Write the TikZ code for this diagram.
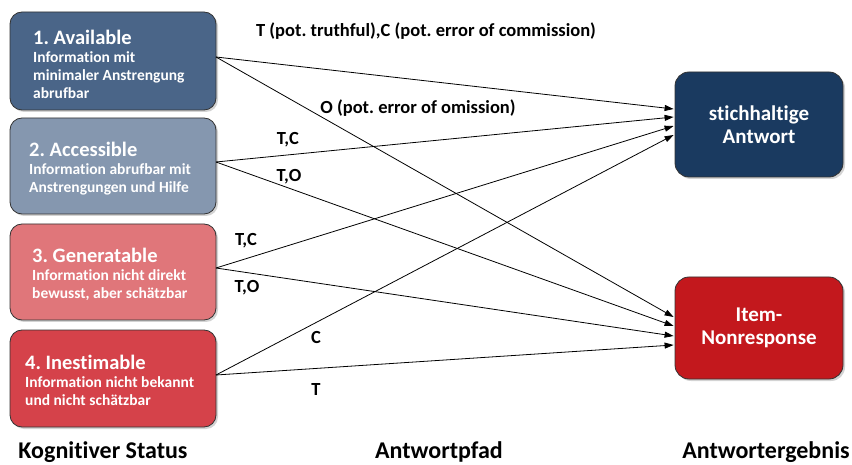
\documentclass[tikz,border=0pt]{standalone}
\usepackage{fontspec}
\setmainfont{Carlito}[Ligatures=NoCommon]
\usetikzlibrary{arrows.meta,shadows,calc}
\frenchspacing

\definecolor{cavail}{HTML}{4A6588}
\definecolor{caccess}{HTML}{8597AF}
\definecolor{cgener}{HTML}{E0767A}
\definecolor{cinest}{HTML}{D5424A}
\definecolor{cvalid}{HTML}{1A3A60}
\definecolor{cnonresp}{HTML}{C3181D}

\tikzset{
  statebox/.style={draw=black!80, line width=0.8pt, rounded corners=12pt,
    minimum width=206pt, drop shadow={shadow xshift=2pt, shadow yshift=-2pt, opacity=0.35}},
  resultbox/.style={draw=black!80, line width=0.8pt, rounded corners=14pt,
    minimum width=168pt, drop shadow={shadow xshift=2pt, shadow yshift=-2pt, opacity=0.35},
    text=white, font=\bfseries\fontsize{21}{23}\selectfont, align=center},
  boxtext/.style={anchor=west, text=white, align=left, inner sep=0pt,
    font=\bfseries\fontsize{15.5}{18}\selectfont},
  path/.style={line width=0.8pt, -{Triangle[length=9pt,width=6pt]}},
  pathlabel/.style={font=\bfseries\fontsize{18.5}{20}\selectfont, inner sep=0pt},
  columnlabel/.style={font=\bfseries\fontsize{24}{26}\selectfont, anchor=base, inner sep=0pt},
}
\newcommand{\statetitle}[1]{{\fontsize{20.5}{22}\selectfont #1}}

\begin{document}
\begin{tikzpicture}[x=1pt,y=-1pt]
  \useasboundingbox (0,0) rectangle (852,465);

  % cognitive states
  \node[statebox, fill=cavail, minimum height=98pt] (b1) at (113,61) {};
  \node[statebox, fill=caccess, minimum height=96pt] (b2) at (113,166) {};
  \node[statebox, fill=cgener, minimum height=96pt] (b3) at (113,272) {};
  \node[statebox, fill=cinest, minimum height=97pt] (b4) at (113,378.5) {};

  \node[boxtext] (t1) at (33,64) {\statetitle{1. Available}\\Information mit\\minimaler Anstrengung\\abrufbar};
  \node[boxtext] (t2) at (29,169) {\statetitle{2. Accessible}\\Information abrufbar mit\\Anstrengungen und Hilfe};
  \node[boxtext] (t3) at (32,274) {\statetitle{3. Generatable}\\Information nicht direkt\\bewusst, aber schätzbar};
  \node[boxtext] (t4) at (25,380) {\statetitle{4. Inestimable}\\Information nicht bekannt\\und nicht schätzbar};

  % response outcomes
  \node[resultbox, fill=cvalid, minimum height=105pt] (r1) at (759,124.5) {stichhaltige\\Antwort};
  \node[resultbox, fill=cnonresp, minimum height=102pt] (r2) at (759,328) {Item-\\Nonresponse};

  % path end points
  \coordinate (s1) at (216,57);
  \coordinate (s2) at (216,162);
  \coordinate (s3) at (216,268);
  \coordinate (s4) at (216,375);
  \coordinate (a1) at ($(r1.west)+(-1,-15.5)$);
  \coordinate (a2) at ($(r1.west)+(-1,-7.5)$);
  \coordinate (a3) at ($(r1.west)+(-1,1.5)$);
  \coordinate (a4) at ($(r1.west)+(-1,10.5)$);
  \coordinate (n1) at ($(r2.west)+(-1,-11)$);
  \coordinate (n2) at ($(r2.west)+(-1,-2)$);
  \coordinate (n3) at ($(r2.west)+(-1,8)$);
  \coordinate (n4) at ($(r2.west)+(-1,17)$);

  \draw[path] (s1) -- (a1);
  \draw[path] (s1) -- (n1);
  \draw[path] (s2) -- (a2);
  \draw[path] (s2) -- (n2);
  \draw[path] (s3) -- (a3);
  \draw[path] (s3) -- (n3);
  \draw[path] (s4) -- (a4);
  \draw[path] (s4) -- (n4);

  % path labels
  \node[pathlabel] (l1) at (426,31) {T (pot. truthful),C (pot. error of commission)};
  \node[pathlabel] (l2) at (418,108) {O (pot. error of omission)};
  \node[pathlabel] (l3) at (288,140) {T,C};
  \node[pathlabel] (l4) at (289,177) {T,O};
  \node[pathlabel] (l5) at (246,241) {T,C};
  \node[pathlabel] (l6) at (247,288) {T,O};
  \node[pathlabel] (l7) at (316,337) {C};
  \node[pathlabel] (l8) at (316,390) {T};

  % column headings
  \node[columnlabel] (h1) at (103,458) {Kognitiver Status};
  \node[columnlabel] (h2) at (439,458) {Antwortpfad};
  \node[columnlabel] (h3) at (766,458) {Antwortergebnis};
\end{tikzpicture}
\end{document}
